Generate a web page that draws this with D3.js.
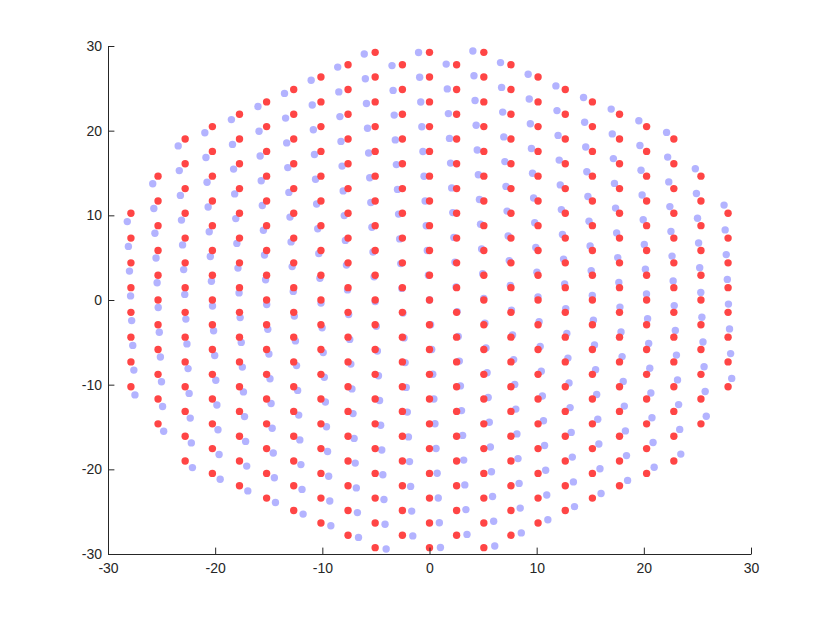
<!DOCTYPE html>
<html>
<head>
<meta charset="utf-8">
<script src="https://cdn.jsdelivr.net/npm/d3@7"></script>
<style>
  html, body { margin: 0; padding: 0; background: #ffffff; }
  svg { display: block; }
  .tick text { font-family: "Liberation Sans", Arial, Helvetica, sans-serif; font-size: 14px; fill: #262626; }
</style>
</head>
<body>
<svg id="chart" width="830" height="623"></svg>
<script>
// ---- data ----
// x position of each column of the red (hexagonal) lattice
const columnX = [-27.86, -25.33, -22.80, -20.26, -17.73, -15.20, -12.67, -10.13, -7.60, -5.07, -2.53,
                 0, 2.53, 5.07, 7.60, 10.13, 12.67, 15.20, 17.73, 20.26, 22.80, 25.33, 27.86];
// highest |y| reached by the red points in each column (the lattice is cut by a circle of radius 30)
const columnTopY = [10.24, 14.63, 19.01, 20.48, 21.94, 23.40, 24.86, 26.33, 27.79, 29.25, 27.79,
                    29.25, 27.79, 29.25, 27.79, 26.33, 24.86, 23.40, 21.94, 20.48, 19.01, 14.63, 10.24];
// y rows used by even columns (x = 0, ±5.07, ...) and odd columns (x = ±2.53, ...)
const evenRowsY = [-29.25, -26.33, -23.40, -20.48, -17.55, -14.63, -11.70, -8.78, -5.85, -2.93, 0,
                   2.93, 5.85, 8.78, 11.70, 14.63, 17.55, 20.48, 23.40, 26.33, 29.25];
const oddRowsY = [-27.79, -24.86, -21.94, -19.01, -16.09, -13.16, -10.24, -7.31, -4.39, -1.46,
                  1.46, 4.39, 7.31, 10.24, 13.16, 16.09, 19.01, 21.94, 24.86, 27.79];
// the blue set is the same lattice turned counter-clockwise by this angle (degrees)
const blueRotationDeg = 2;
const xTicks = [-30, -20, -10, 0, 10, 20, 30];
const yTicks = [-30, -20, -10, 0, 10, 20, 30];
const seriesColors = { red: "#ff4545", blue: "#b3b3ff" };

// ---- build point tables ----
const redPoints = [];
columnX.forEach((cx, i) => {
  const rows = (i % 2 === 1) ? evenRowsY : oddRowsY; // index 11 (x=0) is an even lattice column
  rows.forEach(y => {
    if (Math.abs(y) <= columnTopY[i] + 0.01) redPoints.push({ x: cx, y: y });
  });
});
const th = blueRotationDeg * Math.PI / 180;
const bluePoints = redPoints.map(p => ({
  x: p.x * Math.cos(th) - p.y * Math.sin(th),
  y: p.x * Math.sin(th) + p.y * Math.cos(th)
}));

// ---- draw ----
const svg = d3.select("#chart");
const x = d3.scaleLinear().domain([-30, 30]).range([108, 751]);
const y = d3.scaleLinear().domain([-30, 30]).range([554, 46]);

const dots = svg.append("g");
dots.selectAll("circle.blue").data(bluePoints).join("circle")
  .attr("class", "blue")
  .attr("cx", d => x(d.x)).attr("cy", d => y(d.y)).attr("r", 3.7)
  .attr("fill", seriesColors.blue);
dots.selectAll("circle.red").data(redPoints).join("circle")
  .attr("class", "red")
  .attr("cx", d => x(d.x)).attr("cy", d => y(d.y)).attr("r", 3.7)
  .attr("fill", seriesColors.red);

const fmt = d => String(d); // plain hyphen-minus, as in the reference
const xAxis = svg.append("g")
  .attr("transform", `translate(0,${y(-30)})`)
  .call(d3.axisBottom(x).tickValues(xTicks).tickFormat(fmt).tickSizeInner(-6.4).tickSizeOuter(0).tickPadding(9));
const yAxis = svg.append("g")
  .attr("transform", `translate(${x(-30)},0)`)
  .call(d3.axisLeft(y).tickValues(yTicks).tickFormat(fmt).tickSizeInner(-6.4).tickSizeOuter(0).tickPadding(6));

[xAxis, yAxis].forEach(a => {
  a.select(".domain").attr("stroke", "#262626").attr("stroke-width", 1);
  a.selectAll(".tick line").attr("stroke", "#262626").attr("stroke-width", 1);
});
yAxis.selectAll(".tick text").attr("x", -6);
</script>
</body>
</html>
